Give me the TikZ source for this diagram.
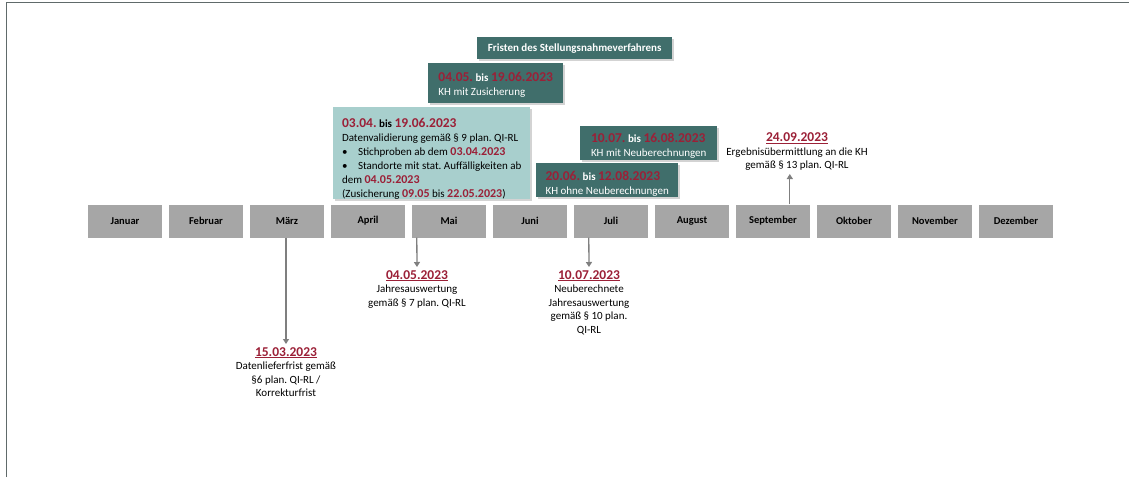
\documentclass[tikz,border=0pt]{standalone}
\usepackage{fontspec}
\setmainfont{Carlito}
\usetikzlibrary{arrows.meta,shadows}
\frenchspacing

\definecolor{frist}{RGB}{64,110,107}
\definecolor{fristhell}{RGB}{168,207,205}
\definecolor{datum}{RGB}{155,32,55}
\definecolor{monat}{RGB}{166,166,166}
\definecolor{pfeil}{RGB}{127,127,127}
\definecolor{rahmen}{RGB}{96,106,106}

\newcommand{\dat}[1]{{\fontsize{13.5}{15}\selectfont\bfseries\color{datum}#1}}
\newcommand{\kdat}[1]{{\fontsize{12}{14}\selectfont\bfseries\color{datum}#1}}

\begin{document}
\begin{tikzpicture}[
  x=1pt, y=-1pt,
  month/.style={
    fill=monat,
    minimum width=74pt,
    minimum height=33pt,
    inner sep=0pt,
    font=\fontsize{10.5}{12}\selectfont\bfseries
  },
  fristbox/.style={
    fill=frist,
    text=white,
    anchor=north west,
    align=left,
    inner sep=0pt,
    font=\fontsize{11}{14}\selectfont,
    drop shadow={shadow xshift=2pt, shadow yshift=-2pt, opacity=.35}
  },
  hellbox/.style={
    fristbox,
    fill=fristhell,
    text=black
  },
  lbl/.style={
    align=center,
    inner sep=0pt,
    font=\fontsize{11}{13.5}\selectfont
  },
  arr/.style={
    pfeil,
    line width=1.3pt,
    shorten >=3pt,
    -{Triangle[width=6pt,length=5pt]}
  },
]
\useasboundingbox (0,0) rectangle (1129,477);
% frame
\draw[rahmen, line width=1pt] (6,477) -- (6,2) -- (1129,2);

% months
\foreach \m [count=\i] in {Januar,Februar,März,April,Mai,Juni,Juli,August,September,Oktober,November,Dezember}
  \node[month] (m\i) at ({125+81*(\i-1)},221) {\m};

% periods
\node[fristbox, minimum width=195pt, minimum height=22pt,
  font=\fontsize{11}{13}\selectfont\bfseries] (titel) at (477,37)
  {Fristen des Stellungsnahmeverfahrens};
\node[fristbox, minimum width=135pt, minimum height=40pt] (zus) at (428,63)
  {\rule{0pt}{13pt}\dat{04.05.} \textbf{bis} \dat{19.06.2023}\\KH mit Zusicherung};
\node[hellbox, minimum width=197pt, minimum height=92pt] (valid) at (333,107)
  {\rule{0pt}{20pt}\dat{03.04.} \textbf{bis} \dat{19.06.2023}\\
   Datenvalidierung gemäß § 9 plan. QI-RL\\
   \makebox[16pt][l]{\textbullet}Stichproben ab dem \kdat{03.04.2023}\\
   \makebox[16pt][l]{\textbullet}Standorte mit stat. Auffälligkeiten ab\\
   dem \kdat{04.05.2023}\\
   (Zusicherung \kdat{09.05} bis \kdat{22.05.2023})};
\node[fristbox, minimum width=137pt, minimum height=34pt] (neu) at (580,126)
  {\rule{0pt}{15pt}\dat{10.07.} \textbf{bis} \dat{16.08.2023}\\KH mit Neuberechnungen};
\node[fristbox, minimum width=142pt, minimum height=34pt] (ohne) at (536,163)
  {\rule{0pt}{16pt}\dat{20.06.} \textbf{bis} \dat{12.08.2023}\\KH ohne Neuberechnungen};

% milestones
\node[lbl, anchor=north] (l3) at (286,347)
  {\dat{\underline{15.03.2023}}\\Datenlieferfrist gemäß\\§6 plan. QI-RL /\\Korrekturfrist};
\node[lbl, anchor=north] (l5) at (417,270)
  {\dat{\underline{04.05.2023}}\\Jahresauswertung\\gemäß § 7 plan. QI-RL};
\node[lbl, anchor=north] (l7) at (589,270)
  {\dat{\underline{10.07.2023}}\\Neuberechnete\\Jahresauswertung\\gemäß § 10 plan.\\QI-RL};
\node[lbl, anchor=south] (l9) at (797,171)
  {\dat{\underline{24.09.2023}}\\Ergebnisübermittlung an die KH\\gemäß § 13 plan. QI-RL};

\draw[arr] ([xshift=-1pt]m3.south) -- (l3.north);
\draw[arr] ([xshift=5pt]m5.south west) -- (l5.north);
\draw[arr] ([xshift=15pt]m7.south west) -- (l7.north);
\coordinate (s9) at ([xshift=54pt]m9.north west);
\draw[arr] (s9) -- (s9 |- l9.south);
\end{tikzpicture}
\end{document}
